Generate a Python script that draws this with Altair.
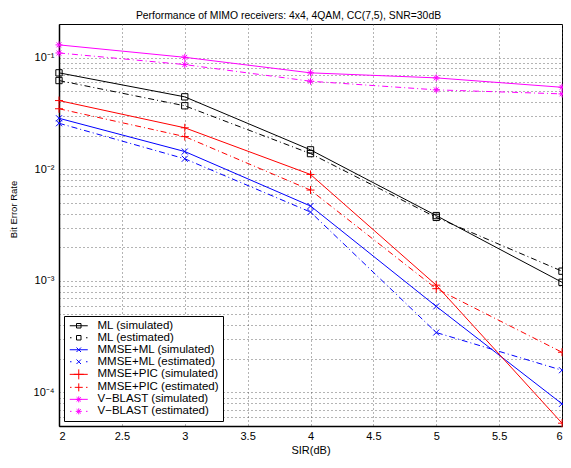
import altair as alt
import pandas as pd

# ---- data ----
sir = [2, 3, 4, 5, 6]
names = [
    "ML (simulated)", "ML (estimated)",
    "MMSE+ML (simulated)", "MMSE+ML (estimated)",
    "MMSE+PIC (simulated)", "MMSE+PIC (estimated)",
    "V\u2212BLAST (simulated)", "V\u2212BLAST (estimated)",
]
ml_sim = [0.073, 0.0445, 0.0149, 0.00384, 0.00097]
ml_est = [0.0623, 0.037, 0.0138, 0.0037, 0.00122]
mmse_ml_sim = [0.0286, 0.0144, 0.00468, 0.00059, 0.000079]
mmse_ml_est = [0.0258, 0.0124, 0.00413, 0.000344, 0.000158]
pic_sim = [0.0412, 0.0235, 0.00897, 0.000914, 0.000053]
pic_est = [0.0348, 0.0196, 0.0065, 0.00085, 0.000229]
vb_sim = [0.130, 0.1006, 0.073, 0.0658, 0.0542]
vb_est = [0.110, 0.0866, 0.0614, 0.0514, 0.0473]
values = [ml_sim, ml_est, mmse_ml_sim, mmse_ml_est, pic_sim, pic_est, vb_sim, vb_est]

x_ticks = [2, 2.5, 3, 3.5, 4, 4.5, 5, 5.5, 6]
y_grid = [5e-5, 6e-5, 7e-5, 8e-5, 9e-5,
          1e-4, 2e-4, 3e-4, 4e-4, 5e-4, 6e-4, 7e-4, 8e-4, 9e-4,
          1e-3, 2e-3, 3e-3, 4e-3, 5e-3, 6e-3, 7e-3, 8e-3, 9e-3,
          1e-2, 2e-2, 3e-2, 4e-2, 5e-2, 6e-2, 7e-2, 8e-2, 9e-2,
          1e-1]

df = pd.DataFrame(
    [{"series": n, "sir": x, "ber": v} for n, vals in zip(names, values) for x, v in zip(sir, vals)]
)

# ---- styles ----
colors = ["#000000", "#000000", "#0000ff", "#0000ff", "#ff0000", "#ff0000", "#ff00ff", "#ff00ff"]
estimated = [False, True] * 4
SQ = "M-1,-1H1V1H-1Z"
XX = "M-1,-1L1,1M-1,1L1,-1"
PL = "M-1,0L1,0M0,-1L0,1"
ST = "M-1,0L1,0M0,-1L0,1M-0.7,-0.7L0.7,0.7M-0.7,0.7L0.7,-0.7"
markers = [SQ, SQ, XX, XX, PL, PL, ST, ST]
sizes = [40, 40, 36, 36, 64, 64, 49, 49]

# legend symbols (symbolSize 100 -> 5 px per path unit)
SOLID = "M-1.8,0L1.8,0"
DOTS = "M-1.75,0L-1.45,0M1.45,0L1.75,0"
lsq = "M-0.45,-0.45H0.45V0.45H-0.45Z"
lxx = "M-0.45,-0.45L0.45,0.45M-0.45,0.45L0.45,-0.45"
lpl_s = "M-1,0L1,0M0,-1L0,1"
lpl_e = "M-0.8,0L0.8,0M0,-0.8L0,0.8"
lst = "M-0.6,0L0.6,0M0,-0.6L0,0.6M-0.42,-0.42L0.42,0.42M-0.42,0.42L0.42,-0.42"
legend_paths = [
    SOLID + lsq, DOTS + lsq,
    SOLID + lxx, DOTS + lxx,
    SOLID + lpl_s, DOTS + lpl_e,
    SOLID + lst, DOTS + lst,
]

FONT = "Liberation Sans"

x_enc = alt.X(
    "sir:Q",
    scale=alt.Scale(domain=[2, 6], nice=False, zero=False),
    axis=alt.Axis(values=x_ticks, format="~g", grid=True, ticks=False,
                  labelPadding=4, titlePadding=3),
    title="SIR(dB)",
)
y_label_expr = (
    "abs(log(datum.value)/LN10 - round(log(datum.value)/LN10)) < 1e-6 ? "
    "'10' + ['\u207b\u00b9','\u207b\u00b2','\u207b\u00b3','\u207b\u2074','\u207b\u2075'][-round(log(datum.value)/LN10)-1] : ''"
)
y_enc = alt.Y(
    "ber:Q",
    scale=alt.Scale(type="log", domain=[5e-5, 0.2], nice=False),
    axis=alt.Axis(values=y_grid, labelExpr=y_label_expr, grid=True, ticks=False,
                  labelPadding=5, labelOverlap=False,
                  titleX=-46, titleY=185, titleAngle=270, titleAlign="center",
                  titleBaseline="middle", titleFontSize=9.5),
    title="Bit Error Rate",
)

layers = []
for i, n in enumerate(names):
    base = alt.Chart(df).transform_filter(alt.datum.series == n)
    line_kw = dict(color=colors[i], strokeWidth=1)
    if estimated[i]:
        line_kw["strokeDash"] = [6, 3, 1, 3]
    layers.append(base.mark_line(**line_kw).encode(x=x_enc, y=y_enc))
    layers.append(
        base.mark_point(shape=markers[i], filled=False, color=colors[i], size=sizes[i],
                        strokeWidth=1, opacity=1).encode(x=x_enc, y=y_enc)
    )

legend_opts = dict(title=None, rowPadding=-1.4, labelOffset=13)
legend_layer = alt.Chart(df).mark_point(filled=False, opacity=0, size=100).encode(
    x=x_enc,
    y=y_enc,
    color=alt.Color("series:N", scale=alt.Scale(domain=names, range=colors),
                    legend=alt.Legend(**legend_opts)),
    shape=alt.Shape("series:N", scale=alt.Scale(domain=names, range=legend_paths),
                    legend=alt.Legend(**legend_opts)),
)
layers.append(legend_layer)

chart = (
    alt.layer(*layers)
    .properties(
        width=503,
        height=402,
        title=alt.Title(
            "Performance of MIMO receivers: 4x4, 4QAM, CC(7,5), SNR=30dB",
            font=FONT, fontSize=10.4, fontWeight="normal", color="black",
            anchor="middle", dx=-22, offset=3, frame="group",
        ),
        autosize=alt.AutoSizeParams(type="none"),
        padding={"left": 51, "top": 16, "right": 1, "bottom": 32},
    )
    .configure_view(stroke="black", strokeWidth=1)
    .configure_axis(
        labelFont=FONT, labelFontSize=11, labelColor="black",
        titleFont=FONT, titleFontSize=11, titleColor="black", titleFontWeight="normal",
        domainColor="black", domainWidth=1.5,
        gridColor="#444444", gridDash=[1, 3], gridWidth=1, gridOpacity=0.8,
    )
    .configure_legend(
        orient="bottom-left", offset=5, padding=4,
        strokeColor="black", strokeWidth=1, fillColor="white",
        labelFont=FONT, labelFontSize=11.5, labelColor="black", labelLimit=0,
        symbolSize=100, symbolOffset=5, symbolStrokeWidth=1, symbolOpacity=1,
    )
)

chart.save("out.html", embed_options={"renderer": "svg", "actions": False})
